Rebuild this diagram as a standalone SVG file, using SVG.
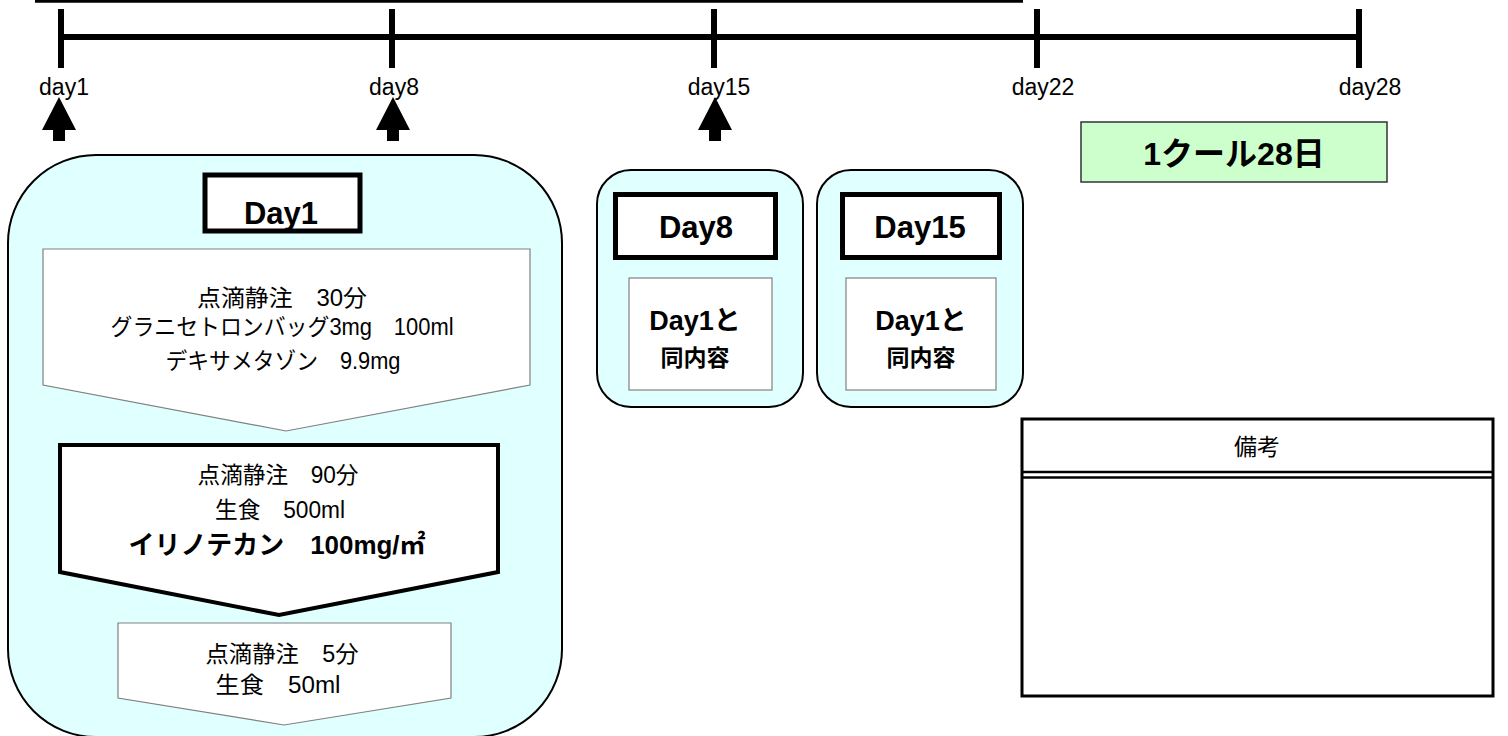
<svg xmlns="http://www.w3.org/2000/svg" width="1508" height="736" viewBox="0 0 1508 736">
<style>
text{font-family:"Liberation Sans","Noto Sans CJK JP",sans-serif;fill:#000;text-anchor:middle}
.lbl{font-size:23px}
.t{font-size:23px}
.b{font-weight:bold}
.panel{fill:#E0FFFF;stroke:#000;stroke-width:2}
.title{fill:#fff;stroke:#000;stroke-width:5}
.thin{fill:#fff;stroke:#808080;stroke-width:1.2}
.tick{stroke:#000;stroke-width:6}
</style>
<defs>
<path id="uparrow" d="M0,0 L17,33 L6,33 L6,44 L-6,44 L-6,33 L-17,33 Z" fill="#000"/>
</defs>
<g id="timeline">
<line x1="35" y1="1.3" x2="1023" y2="1.3" stroke="#000" stroke-width="2.7"/>
<line x1="61" y1="37" x2="1359" y2="37" class="tick"/>
<line x1="61" y1="9" x2="61" y2="68" class="tick"/>
<line x1="392" y1="9" x2="392" y2="68" class="tick"/>
<line x1="714" y1="9" x2="714" y2="68" class="tick"/>
<line x1="1037" y1="9" x2="1037" y2="68" class="tick"/>
<line x1="1359" y1="9" x2="1359" y2="68" class="tick"/>
<text class="lbl" x="64" y="95">day1</text>
<text class="lbl" x="394" y="95">day8</text>
<text class="lbl" x="719" y="95">day15</text>
<text class="lbl" x="1043" y="95">day22</text>
<text class="lbl" x="1370" y="95">day28</text>
</g>
<g id="connectors">
<use href="#uparrow" x="59" y="97"/>
<use href="#uparrow" x="393" y="97"/>
<use href="#uparrow" x="715" y="97"/>
</g>
<g id="day1">
<rect class="panel" x="8" y="155" width="554" height="582" rx="88" ry="88"/>
<rect class="title" x="205" y="175" width="155" height="56"/>
<text class="b" x="281" y="224" font-size="31">Day1</text>
<path class="thin" d="M43,249 L530,249 L530,385 L286,431 L43,385 Z"/>
<text class="t" x="282" y="306" textLength="170" lengthAdjust="spacingAndGlyphs">点滴静注　30分</text>
<text class="t" x="282" y="335" textLength="343" lengthAdjust="spacingAndGlyphs">グラニセトロンバッグ3mg　100ml</text>
<text class="t" x="283" y="369" textLength="235" lengthAdjust="spacingAndGlyphs">デキサメタゾン　9.9mg</text>
<path d="M60,445 L498,445 L498,572 L279,615 L60,572 Z" fill="#fff" stroke="#000" stroke-width="4"/>
<text class="t" x="278" y="483" textLength="161" lengthAdjust="spacingAndGlyphs">点滴静注　90分</text>
<text class="t" x="280" y="518" textLength="130" lengthAdjust="spacingAndGlyphs">生食　500ml</text>
<text class="b" x="277" y="554" font-size="26" textLength="297" lengthAdjust="spacingAndGlyphs">イリノテカン　100mg/㎡</text>
<path class="thin" d="M118,623 L451,623 L451,698 L284,725 L118,698 Z"/>
<text class="t" x="282" y="662" textLength="153" lengthAdjust="spacingAndGlyphs">点滴静注　5分</text>
<text class="t" x="278" y="693" textLength="125" lengthAdjust="spacingAndGlyphs">生食　50ml</text>
</g>
<g id="day8">
<rect class="panel" x="597" y="170" width="206" height="237" rx="34" ry="34"/>
<rect class="title" x="615.5" y="194.5" width="160" height="63"/>
<text class="b" x="696" y="238" font-size="31">Day8</text>
<rect class="thin" x="629" y="278" width="143" height="112"/>
<text class="b" x="695" y="330" font-size="27">Day1と</text>
<text class="b" x="695" y="366" font-size="23">同内容</text>
</g>
<g id="day15">
<rect class="panel" x="817" y="170" width="206" height="237" rx="34" ry="34"/>
<rect class="title" x="842.5" y="194.5" width="157" height="63"/>
<text class="b" x="920" y="238" font-size="31">Day15</text>
<rect class="thin" x="846" y="278" width="150" height="112"/>
<text class="b" x="921" y="330" font-size="27">Day1と</text>
<text class="b" x="921" y="366" font-size="23">同内容</text>
</g>
<g id="cycle">
<rect x="1081" y="122" width="306" height="60" fill="#CCFFCC" stroke="#333" stroke-width="1.5"/>
<text class="b" x="1234" y="165" font-size="32">1クール28日</text>
</g>
<g id="notes">
<rect x="1022" y="419" width="471" height="277" fill="#fff" stroke="#000" stroke-width="3"/>
<line x1="1022" y1="472" x2="1493" y2="472" stroke="#000" stroke-width="2.5"/>
<line x1="1022" y1="477.5" x2="1493" y2="477.5" stroke="#000" stroke-width="2.5"/>
<text x="1257" y="455" font-size="23">備考</text>
</g>
</svg>
